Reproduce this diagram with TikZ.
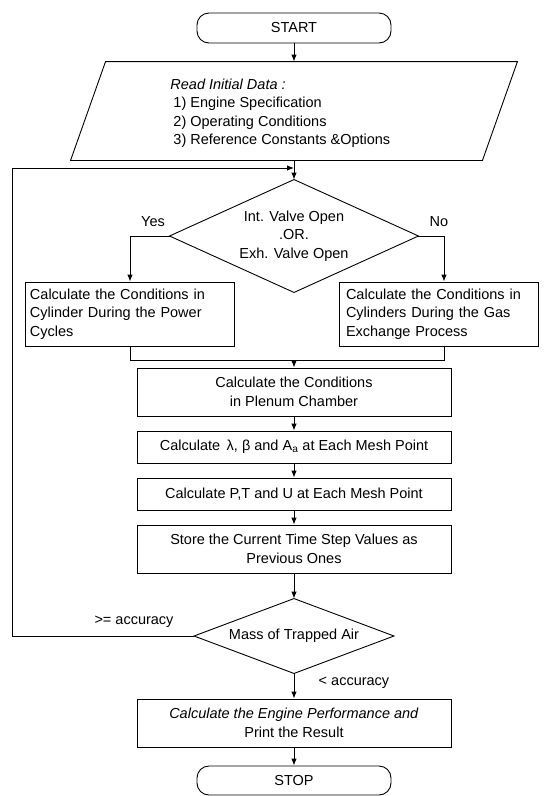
\documentclass[tikz,border=0pt]{standalone}
\usepackage{fontspec}
\setmainfont{Liberation Sans}
\usetikzlibrary{arrows.meta,calc}
\begin{document}
\begin{tikzpicture}[x=1pt,y=-1pt,
  line width=0.9pt,
  every node/.style={font=\fontsize{14.5}{18.5}\selectfont, inner sep=0pt},
  box/.style={draw, minimum width=314pt, align=center},
  lbox/.style={draw, align=left, inner xsep=5pt, inner ysep=0pt},
  term/.style={draw, rounded corners=12pt, minimum width=194pt, minimum height=30pt},
  arr/.style={-{Latex[length=7pt,width=5.5pt]}},
  lbl/.style={}
]
\useasboundingbox (0,0) rectangle (544,796);

% terminators
\node[term] (start) at (294,28) {START};
\node[term, minimum height=29pt] (stop) at (294,780.5) {STOP};

% input parallelogram
\node[minimum width=446pt, minimum height=98pt] (data) at (294,111) {};
\draw ($(data.north west)+(35,0)$) -- (data.north east) -- ($(data.south east)+(-35,0)$) -- (data.south west) -- cycle;
\node[anchor=west, align=left] (datatext) at (170,113)
  {\textit{Read Initial Data :}\\
   \hspace{3pt}1) Engine Specification\\
   \hspace{3pt}2) Operating Conditions\\
   \hspace{3pt}3) Reference Constants \&Options};

% decision 1
\node[minimum width=248pt, minimum height=112pt, align=center] (d1) at (294,236)
  {Int. Valve Open\\.OR.\\Exh. Valve Open};
\draw (d1.north) -- (d1.east) -- (d1.south) -- (d1.west) -- cycle;
\node[lbl] (yes) at (153,222) {Yes};
\node[lbl] (no) at (439,222) {No};

% branch boxes
\node[lbox, text width=199pt, minimum height=64pt] (lb) at (129.5,314)
  {Calculate the Conditions in\\Cylinder During the Power\\Cycles};
\node[lbox, inner xsep=7pt, text width=185pt, minimum height=64pt] (rb) at (438.5,314)
  {Calculate the Conditions in\\Cylinders During the Gas\\Exchange Process};

% main column
\node[box, minimum height=48pt] (plen) at (294,392) {Calculate the Conditions\\in Plenum Chamber};
\node[box, minimum height=32pt] (lam) at (294,447) {Calculate \,λ, β and A\textsubscript{a} at Each Mesh Point};
\node[box, minimum height=32pt] (ptu) at (294,494) {Calculate P,T and U at Each Mesh Point};
\node[box, minimum height=48pt] (store) at (294,549) {Store the Current Time Step Values as\\Previous Ones};

% decision 2
\node[minimum width=199pt, minimum height=74pt] (d2) at (294,636) {Mass of Trapped Air};
\draw (d2.north) -- (d2.east) -- (d2.south) -- (d2.west) -- cycle;
\node[lbl] (ge) at (134,622) {>= accuracy};
\node[lbl] (lt) at (354,683) {< accuracy};

\node[box, minimum height=48pt] (final) at (294,723) {\textit{Calculate the Engine Performance and}\\Print the Result};

% helper coordinates
\coordinate (ybr) at (130,236);
\coordinate (nbr) at (444,236);
\coordinate (m) at (294,360);
\coordinate (lx) at (12,0);
\coordinate (lp) at (294,168);

% connectors
\draw[arr] (start.south) -- (data.north);
\draw[arr] (data.south) -- (d1.north);
\draw[arr] (d1.west) -- (ybr) -- (ybr |- lb.north);
\draw[arr] (d1.east) -- (nbr) -- (nbr |- rb.north);
\draw (ybr |- lb.south) -- (ybr |- m) -- (nbr |- m) -- (nbr |- rb.south);
\draw[arr] (m) -- (plen.north);
\draw[arr] (plen.south) -- (lam.north);
\draw[arr] (lam.south) -- (ptu.north);
\draw[arr] (ptu.south) -- (store.north);
\draw[arr] (store.south) -- (d2.north);
\draw[arr] (d2.south) -- (final.north);
\draw[arr] (final.south) -- (stop.north);
\draw[arr] (d2.west) -- (lx |- d2.west) -- (lx |- lp) -- (lp);
\end{tikzpicture}
\end{document}
